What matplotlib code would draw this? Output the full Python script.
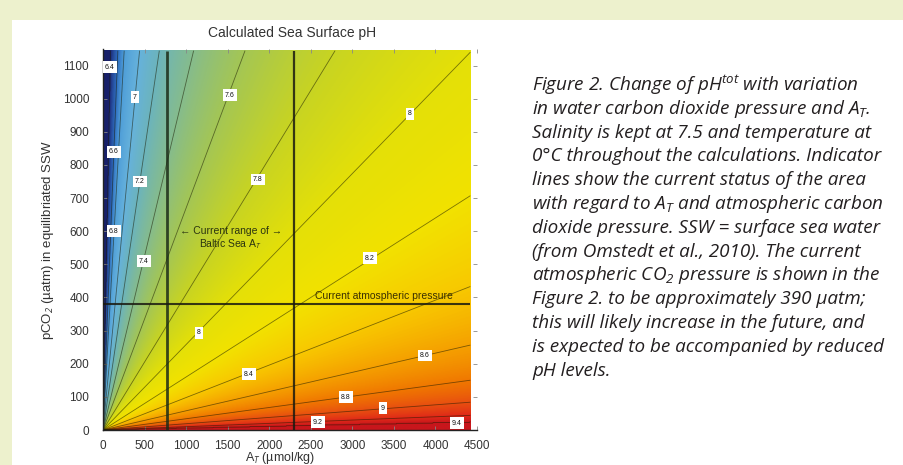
import numpy as np
import matplotlib
matplotlib.use("Agg")
import matplotlib.pyplot as plt
from matplotlib.colors import LinearSegmentedColormap, Normalize
from matplotlib.patches import Rectangle

# ---------------- data ----------------
ph_levels = [6.4, 6.6, 6.8, 7.0, 7.2, 7.4, 7.6, 7.8, 8.0, 8.2, 8.4, 8.6, 8.8, 9.0, 9.2, 9.4]
# pCO2 / A_T slope of each (straight, origin-centred) pH contour
contour_ratio = [13.0, 6.4, 4.5, 2.6, 1.69, 1.05, 0.67, 0.41, 0.258, 0.16, 0.098,
                 0.058, 0.034, 0.019, 0.0100, 0.0052]
label_ph = [6.4, 7.0, 6.6, 7.2, 6.8, 7.4, 7.6, 7.8, 8.0, 8.0, 8.2, 8.4, 8.6, 8.8, 9.0, 9.2, 9.4]
label_x = [84, 385, 132, 445, 132, 493, 1528, 1865, 3694, 1155, 3212, 1757, 3873, 2925, 3369, 2587, 4259]
label_y = [1095, 1005, 840, 750, 600, 510, 1011, 756, 954, 294, 519, 168, 225, 99, 66, 24, 21]
baltic_at_range = [770, 2300]      # umol/kg
atm_pco2 = 380                     # uatm
field_x_max = 4420
field_y_max = 1145
x_ticks = [0, 500, 1000, 1500, 2000, 2500, 3000, 3500, 4000, 4500]
y_ticks = [0, 100, 200, 300, 400, 500, 600, 700, 800, 900, 1000, 1100]

caption_lines = [
    "Figure 2. Change of pH$^{tot}$ with variation",
    "in water carbon dioxide pressure and A$_T$.",
    "Salinity is kept at 7.5 and temperature at",
    "0°C throughout the calculations. Indicator",
    "lines show the current status of the area",
    "with regard to A$_T$ and atmospheric carbon",
    "dioxide pressure. SSW = surface sea water",
    "(from Omstedt et al., 2010). The current",
    "atmospheric CO$_2$ pressure is shown in the",
    "Figure 2. to be approximately 390 µatm;",
    "this will likely increase in the future, and",
    "is expected to be accompanied by reduced",
    "pH levels.",
]

# ---------------- style ----------------
plt.rcParams["font.family"] = ["Liberation Sans", "DejaVu Sans"]
plt.rcParams["mathtext.fontset"] = "custom"
plt.rcParams["mathtext.it"] = "Open Sans:italic"
plt.rcParams["mathtext.rm"] = "Open Sans:italic"

cmap_ph = [6.3, 6.4, 6.6, 6.8, 7.0, 7.2, 7.4, 7.6, 7.8, 8.0, 8.2, 8.4, 8.6, 8.8, 9.0, 9.2, 9.4, 9.5]
cmap_col = ["#18206a", "#1c2a7a", "#2f6fc0", "#4f9ed8", "#66b2dc", "#6cb4bc", "#86bc8c",
            "#a4c654", "#c8d422", "#e4e008", "#f2e200", "#f8c800", "#f5a000", "#f07800",
            "#e85010", "#e02a18", "#c8161c", "#c8161c"]
vmin, vmax = cmap_ph[0], cmap_ph[-1]
cmap = LinearSegmentedColormap.from_list(
    "ph", [((p - vmin) / (vmax - vmin), c) for p, c in zip(cmap_ph, cmap_col)])

W, H = 904, 465
fig = plt.figure(figsize=(W / 100, H / 100), dpi=100)
fig.patch.set_facecolor("#edf1cd")
fig.add_artist(Rectangle((12 / W, 0), 1, 1 - 20 / H, transform=fig.transFigure,
                         facecolor="white", edgecolor="none", zorder=0))

ax_l, ax_r, ax_t, ax_b = 103, 477, 49, 430
ax = fig.add_axes([ax_l / W, 1 - ax_b / H, (ax_r - ax_l) / W, (ax_b - ax_t) / H])
ax.set_facecolor("white")

# field of pH built from the read contour slopes
xs = np.linspace(1e-3, field_x_max, 900)
ys = np.linspace(0, field_y_max, 500)
X, Y = np.meshgrid(xs, ys)
lr = np.log10(np.maximum(Y, 1e-9) / X)
lr_pts = np.log10(np.array(contour_ratio))[::-1]
ph_pts = np.array(ph_levels)[::-1]
PH = np.interp(lr, lr_pts, ph_pts, left=vmax, right=vmin)

ax.imshow(PH, origin="lower", extent=[0, field_x_max, 0, field_y_max], cmap=cmap,
          norm=Normalize(vmin, vmax), aspect="auto", interpolation="bilinear", zorder=1)
ax.contour(X, Y, PH, levels=ph_levels, colors="#1a1a00", linewidths=0.6, alpha=0.55, zorder=2)

for p, x, y in zip(label_ph, label_x, label_y):
    s = ("%g" % p)
    ax.text(x, y, s, fontsize=5, ha="center", va="center", color="#111", zorder=5,
            bbox=dict(boxstyle="square,pad=0.35", fc="white", ec="none"))

# indicator lines
ax.vlines(baltic_at_range[0], 0, field_y_max, color="#1c2c18", lw=2.0, alpha=0.85, zorder=3)
ax.vlines(baltic_at_range[1], 0, field_y_max, color="#1a1a10", lw=1.6, alpha=0.85, zorder=3)
ax.hlines(atm_pco2, 0, field_x_max, color="#1a1a10", lw=1.5, alpha=0.85, zorder=3)

mid = (baltic_at_range[0] + baltic_at_range[1]) / 2
ax.text(mid, 600, "← Current range of →", fontsize=7.5, color="#2b3410", ha="center",
        va="center", zorder=4)
ax.text(mid, 562, "Baltic Sea A$_T$", fontsize=7.5, color="#2b3410", ha="center",
        va="center", zorder=4)
ax.text(3380, 405, "Current atmospheric pressure", fontsize=7.5, color="#3a3000",
        ha="center", va="center", zorder=4)

ax.set_xlim(0, 4500)
ax.set_ylim(0, 1150)
ax.set_xticks(x_ticks)
ax.set_yticks(y_ticks)
ax.tick_params(direction="in", length=3, width=0.6, colors="#888", labelcolor="#333",
               labelsize=8.5, top=True, right=True)
ax.tick_params(axis="y", pad=10)
ax.tick_params(axis="x", pad=7)
for s in ["left", "bottom"]:
    ax.spines[s].set_color("#222")
    ax.spines[s].set_linewidth(1.0)
for s in ["top", "right"]:
    ax.spines[s].set_visible(False)

fig.text(292 / W, 1 - 33 / H, "Calculated Sea Surface pH", fontsize=10, color="#333",
         ha="center", va="center")
fig.text(280 / W, 1 - 458 / H, "A$_T$ (µmol/kg)", fontsize=9, color="#333",
         ha="center", va="center")
fig.text(48 / W, 1 - 240 / H, "pCO$_2$ (µatm) in equilibriated SSW", fontsize=9.5,
         color="#333", ha="center", va="center", rotation=90)

y0 = 85
for i, line in enumerate(caption_lines):
    fig.text(532 / W, 1 - (y0 + i * 23.8) / H, line, fontsize=13.6, color="#231f20",
             family="Open Sans", style="italic", ha="left", va="center")

fig.savefig("out.png", dpi=100, facecolor=fig.get_facecolor())
